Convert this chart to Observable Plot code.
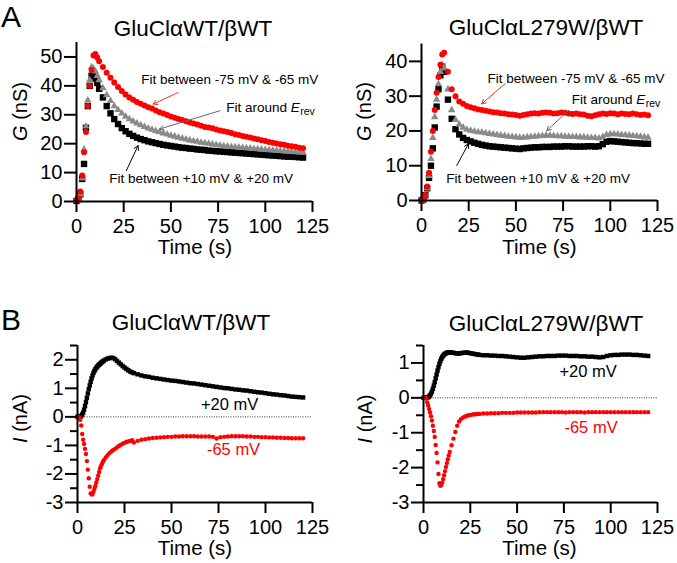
<!DOCTYPE html>
<html><head><meta charset="utf-8">
<script src="https://cdn.jsdelivr.net/npm/d3@7"></script>
<script src="https://cdn.jsdelivr.net/npm/@observablehq/plot@0.6"></script>
<style>
body{margin:0;background:#fff;}
#fig{position:relative;width:677px;height:563px;overflow:hidden;font-family:'Liberation Sans',Arial,sans-serif;}
#fig svg{position:absolute;}
</style></head><body><div id="fig"></div>
<script>
// ---------- DATA ----------
const xTicks = [0, 25, 50, 75, 100, 125];
const yTicksA_WT = [0, 10, 20, 30, 40, 50];
const yTicksA_L = [0, 10, 20, 30, 40];
const yTicksB_WT = [-3, -2, -1, 0, 1, 2];
const yMinorB_WT = [-2.5, -1.5, -0.5, 0.5, 1.5, 2.5];
const yTicksB_L = [-3, -2, -1, 0, 1];
const yMinorB_L = [-2.5, -1.5, -0.5, 0.5, 1.5];

const titles = ["GluCl\u03b1WT/\u03b2WT", "GluCl\u03b1L279W/\u03b2WT"];
const panelLetters = ["A", "B"];

// Time (s) for panel A conductance series
const tA = [0,1,2,3,4,5,6,7,8,9,10,11,12,14,16,18,20,22,24,26,28,30,32,34,36,38,40,42,44,46,48,50,52,54,56,58,60,62,64,66,68,70,72,74,76,78,80,82,84,86,88,90,92,94,96,98,100,102,104,106,108,110,112,114,116,118,120];

// A, GluCl alpha WT / beta WT : G (nS)
const gWT_red = [0.3,1,3.5,9,17,24,33,40,45.5,50.5,51,49.8,48.5,46.5,44.5,42.8,41.2,39.6,38.2,37,36,35.2,34.4,33.8,33.2,32.6,32.2,31.5,30.9,30.4,29.9,29.4,29,28.5,28.2,27.8,27.3,27,26.6,26.2,25.8,25.6,25.3,24.9,24.6,24.3,24,23.7,23.3,23,22.7,22.4,22.1,21.8,21.5,21.2,20.9,20.6,20.3,20.1,19.8,19.6,19.3,19.1,18.9,18.6,18.4];
const gWT_gray = [0.2,0.8,2.5,8,18,26,35,42,46.5,46,45,43.5,42,39.2,36.8,34.8,33,31.7,30.5,29.4,28.5,27.7,27,26.4,25.8,25.3,24.9,24.4,24,23.6,23.2,22.8,22.5,22.1,21.8,21.5,21.2,20.9,20.7,20.4,20.2,20,19.8,19.6,19.4,19.2,19.1,18.9,18.8,18.7,18.6,18.5,18.4,18.2,18.1,18,17.9,17.8,17.7,17.6,17.5,17.4,17.3,17.2,17.1,17,16.9];
const gWT_black = [0.2,0.8,2.5,7.8,13,25.5,33,40,43.5,43.5,42.5,41,39,36,33,30.5,28.5,26.8,25.4,24.3,23.4,22.7,22.1,21.6,21.2,20.8,20.5,20.2,19.9,19.6,19.4,19.2,19,18.8,18.6,18.5,18.3,18.2,18,17.9,17.8,17.6,17.5,17.4,17.3,17.2,17.1,17,16.9,16.8,16.7,16.6,16.5,16.4,16.3,16.2,16.1,16,15.9,15.8,15.7,15.6,15.5,15.5,15.4,15.3,15.2];

// A, GluCl alpha L279W / beta WT : G (nS)
const gL_red = [0,0.3,1.5,4,8,14,20,26,31,35.5,39,42,42.5,37,32,30,28.5,27.8,27.2,26.8,26.5,26.2,26,25.8,25.6,25.4,25.3,25.1,25,24.8,24.7,24.6,24.4,24.6,24.8,25,25.1,25,25.2,25.3,25.2,25,25.1,25.3,25.2,25,24.9,25,24.8,24.7,24.4,24.2,24.5,24.8,25,24.9,25.1,25,24.8,25,24.9,24.8,25,24.8,24.6,24.7,24.5];
const gL_gray = [0,0.3,1.5,3.5,7,12,18,24,29,33.5,37,39,38,32,26,23.2,21.8,21,20.4,20.1,19.9,19.7,19.6,19.4,19.2,19,18.9,18.7,18.6,18.4,18.3,18.2,18.1,18.1,18.2,18.3,18.4,18.5,18.6,18.7,18.7,18.6,18.5,18.5,18.4,18.4,18.3,18.3,18.2,18.2,18.1,18,18,17.9,18.3,18.9,19.1,19.1,19,18.9,18.8,18.7,18.6,18.5,18.4,18.2,18.1];
const gL_black = [0,0.3,1.5,3.5,6.5,10,15,21,27,32,36,38.5,37,29,23.5,20.5,19,18,17.4,17,16.6,16.3,16,15.8,15.6,15.5,15.4,15.3,15.2,15.1,15,14.9,14.8,15,15.1,15.2,15.3,15.3,15.4,15.4,15.4,15.5,15.5,15.5,15.6,15.6,15.5,15.5,15.5,15.5,15.6,15.6,15.5,15.6,16.2,16.9,17.1,17,16.9,16.8,16.7,16.6,16.5,16.5,16.4,16.3,16.3];

// Time (s) for panel B current series
const tB = [0,0.5,1,1.5,2,2.5,3,3.5,4,4.5,5,5.5,6,6.5,7,7.5,8,8.5,9,9.5,10,10.5,11,11.5,12,12.5,13,13.5,14,15,16,17,18,19,20,21,22,23,24,25,26,27,28,29,30,32,34,36,38,40,42,44,46,48,50,52,54,56,58,60,62,64,66,68,70,72,74,76,78,80,82,84,86,88,90,92,94,96,98,100,102,104,106,108,110,112,114,116,118,120];

// B, WT : I (nA) at +20 mV and -65 mV
const iWT_pos = [0,0,0,0.01,0.03,0.08,0.15,0.25,0.38,0.52,0.67,0.82,0.97,1.1,1.23,1.35,1.45,1.54,1.61,1.67,1.72,1.76,1.8,1.83,1.86,1.89,1.92,1.94,1.97,2.01,2.04,2.06,2.07,2.06,2.02,1.96,1.9,1.84,1.78,1.73,1.68,1.63,1.59,1.56,1.53,1.49,1.45,1.42,1.4,1.37,1.35,1.33,1.31,1.29,1.27,1.26,1.24,1.22,1.2,1.18,1.17,1.15,1.13,1.11,1.09,1.07,1.05,1.03,1.01,1.0,0.98,0.96,0.95,0.93,0.92,0.9,0.88,0.86,0.85,0.83,0.81,0.79,0.78,0.76,0.75,0.73,0.71,0.7,0.69,0.68];
const iWT_neg = [0,0,-0.02,-0.1,-0.3,-0.6,-0.8,-0.95,-1.12,-1.3,-1.55,-1.85,-2.15,-2.45,-2.68,-2.72,-2.7,-2.62,-2.52,-2.42,-2.3,-2.18,-2.06,-1.93,-1.8,-1.72,-1.65,-1.58,-1.52,-1.42,-1.34,-1.27,-1.21,-1.16,-1.12,-1.07,-1.02,-0.98,-0.94,-0.91,-0.88,-0.86,-0.84,-0.82,-0.9,-0.84,-0.8,-0.78,-0.76,-0.74,-0.73,-0.72,-0.71,-0.7,-0.7,-0.69,-0.69,-0.68,-0.68,-0.68,-0.68,-0.69,-0.69,-0.69,-0.69,-0.7,-0.76,-0.71,-0.7,-0.69,-0.68,-0.68,-0.68,-0.68,-0.69,-0.69,-0.7,-0.7,-0.71,-0.71,-0.72,-0.72,-0.73,-0.73,-0.74,-0.74,-0.75,-0.75,-0.75,-0.75];

// B, L279W : I (nA) at +20 mV and -65 mV
const iL_pos = [0,0,0,0,0.01,0.02,0.04,0.07,0.12,0.18,0.26,0.35,0.45,0.56,0.67,0.78,0.88,0.97,1.05,1.12,1.17,1.21,1.24,1.26,1.28,1.29,1.3,1.3,1.3,1.3,1.29,1.28,1.27,1.27,1.28,1.29,1.29,1.3,1.29,1.28,1.27,1.26,1.25,1.24,1.23,1.22,1.22,1.21,1.21,1.2,1.2,1.19,1.18,1.17,1.16,1.15,1.15,1.16,1.17,1.18,1.19,1.19,1.2,1.2,1.2,1.21,1.21,1.21,1.2,1.2,1.2,1.19,1.19,1.18,1.18,1.17,1.16,1.17,1.2,1.22,1.23,1.23,1.24,1.24,1.24,1.23,1.23,1.22,1.21,1.2];
const iL_neg = [0,0,0,-0.02,-0.13,-0.22,-0.32,-0.42,-0.53,-0.65,-0.8,-0.95,-1.12,-1.35,-1.58,-1.85,-2.18,-2.45,-2.52,-2.5,-2.43,-2.33,-2.22,-2.1,-1.98,-1.87,-1.76,-1.65,-1.55,-1.36,-1.17,-0.98,-0.8,-0.68,-0.61,-0.57,-0.54,-0.52,-0.5,-0.49,-0.48,-0.47,-0.47,-0.46,-0.46,-0.45,-0.45,-0.44,-0.44,-0.44,-0.43,-0.43,-0.43,-0.43,-0.42,-0.42,-0.42,-0.42,-0.42,-0.42,-0.41,-0.41,-0.41,-0.41,-0.41,-0.41,-0.41,-0.42,-0.41,-0.41,-0.41,-0.41,-0.42,-0.41,-0.41,-0.41,-0.41,-0.41,-0.41,-0.41,-0.41,-0.41,-0.41,-0.41,-0.41,-0.41,-0.41,-0.41,-0.41,-0.41];

// Annotations (data coordinates)
const annA_WT_text = [{x: 81.2, y: 42.3, text: "Fit between -75 mV & -65 mV"}, {x: 66, y: 7.9, text: "Fit between +10 mV & +20 mV"}];
const annA_WT_erev = [{x: 79.3, y: 32.5}];
const annA_WT_arrows = [
  {x1: 53.9, y1: 37.7, x2: 40.6, y2: 33.7, c: "#ee3030"},
  {x1: 76, y1: 31.4, x2: 44.1, y2: 25.1, c: "#666666"},
  {x1: 26.4, y1: 10.7, x2: 32.6, y2: 19.3, c: "#000000"}
];
const annA_L_text = [{x: 81.8, y: 35, text: "Fit between -75 mV & -65 mV"}, {x: 61.8, y: 6.3, text: "Fit between +10 mV & +20 mV"}];
const annA_L_erev = [{x: 79.6, y: 29}];
const annA_L_arrows = [
  {x1: 44.3, y1: 33.6, x2: 31.9, y2: 27.8, c: "#ee3030"},
  {x1: 77.9, y1: 25.9, x2: 66.4, y2: 20.1, c: "#666666"},
  {x1: 18.7, y1: 10.1, x2: 24.9, y2: 16.3, c: "#000000"}
];
const erevParts = ["Fit around", "E", "rev"];
const annB_WT = [{x: 80.9, y: 0.42, text: "+20 mV", c: "#000"}, {x: 83, y: -1.16, text: "-65 mV", c: "#ff0000"}];
const annB_L = [{x: 87.9, y: 0.76, text: "+20 mV", c: "#000"}, {x: 89.5, y: -0.85, text: "-65 mV", c: "#ff0000"}];

// ---------- DRAWING ----------
const FONT = "'Liberation Sans', Arial, Helvetica, sans-serif";
const RED = "#ff0000", GRAY = "#8a8a8a", BLACK = "#000000";
const TICK_FONT = 20;
const fig = document.getElementById("fig");
const rows = (t, v) => t.map((d, i) => ({t: d, v: v[i]}));

function erevMarks(p) {
  return [
    Plot.text(p, {x: "x", y: "y", text: () => erevParts[0], textAnchor: "start", fontSize: 13.5, fill: "#000"}),
    Plot.text(p, {x: "x", y: "y", text: () => erevParts[1], textAnchor: "start", dx: 64.5, fontSize: 13.5, fontStyle: "italic", fill: "#000"}),
    Plot.text(p, {x: "x", y: "y", text: () => erevParts[2], textAnchor: "start", dx: 74, dy: 4, fontSize: 10.5, fill: "#000"})
  ];
}

function panel(cfg) {
  const svg = Plot.plot({
    width: cfg.w, height: cfg.h,
    marginLeft: cfg.ml, marginRight: cfg.mr, marginTop: cfg.mt, marginBottom: cfg.mb,
    x: {domain: [0, 125]},
    y: {domain: cfg.yDomain},
    style: {fontFamily: FONT, color: "#000", background: "transparent", overflow: "visible"},
    marks: [
      ...cfg.marks,
      Plot.ruleX([0], {strokeWidth: 2}),
      Plot.ruleY([cfg.yDomain[0]], {strokeWidth: 2}),
      cfg.minor ? Plot.axisY({ticks: cfg.minor, tickSize: 7, strokeWidth: 2, tickFormat: () => "", label: null}) : null,
      Plot.axisY({ticks: cfg.yTicks, tickSize: 12, strokeWidth: 2, label: null, tickFormat: () => ""}),
      Plot.axisX({ticks: xTicks, tickSize: 11, strokeWidth: 2, label: null, tickFormat: () => ""}),
      // tick labels
      Plot.text(cfg.yTicks, {y: d => d, text: d => String(d), frameAnchor: "left", dx: -14, textAnchor: "end", lineAnchor: "middle", fontSize: TICK_FONT, fill: "#000"}),
      Plot.text(xTicks, {x: d => d, text: d => String(d), frameAnchor: "bottom", dy: 17, lineAnchor: "top", fontSize: TICK_FONT, fill: "#000"})
    ]
  });
  svg.style.left = cfg.left + "px";
  svg.style.top = cfg.top + "px";
  fig.appendChild(svg);
}

function seriesA(red, gray, black) {
  return [
    Plot.dot(rows(tA, black), {x: "t", y: "v", symbol: "square", r: 3.6, fill: BLACK}),
    Plot.dot(rows(tA, gray), {x: "t", y: "v", symbol: "triangle", r: 2.8, fill: GRAY}),
    Plot.dot(rows(tA, red), {x: "t", y: "v", r: 3.0, fill: RED})
  ];
}
function seriesB(pos, neg) {
  return [
    Plot.ruleY([0], {strokeWidth: 0.8, strokeDasharray: "1,1.4", stroke: "#000"}),
    Plot.dot(rows(tB, pos), {x: "t", y: "v", symbol: "square", r: 2.5, fill: BLACK}),
    Plot.dot(rows(tB, neg), {x: "t", y: "v", r: 2.2, fill: RED})
  ];
}
function arrows(a) {
  return Plot.arrow(a, {x1: "x1", y1: "y1", x2: "x2", y2: "y2", stroke: "c", strokeWidth: 1, headLength: 7});
}

panel({left: 0, top: 0, w: 338, h: 275, ml: 76, mr: 26, mt: 42, mb: 74, yDomain: [0, 55], yTicks: yTicksA_WT,
  marks: [...seriesA(gWT_red, gWT_gray, gWT_black), arrows(annA_WT_arrows),
    Plot.text(annA_WT_text, {x: "x", y: "y", text: "text", fontSize: 13.5, fill: "#000"}), ...erevMarks(annA_WT_erev)]});
panel({left: 338, top: 0, w: 339, h: 275, ml: 83, mr: 20, mt: 43.5, mb: 75, yDomain: [0, 45], yTicks: yTicksA_L,
  marks: [...seriesA(gL_red, gL_gray, gL_black), arrows(annA_L_arrows),
    Plot.text(annA_L_text, {x: "x", y: "y", text: "text", fontSize: 13.5, fill: "#000"}), ...erevMarks(annA_L_erev)]});
panel({left: 0, top: 280, w: 338, h: 283, ml: 77, mr: 26, mt: 65, mb: 61, yDomain: [-3, 2.5], yTicks: yTicksB_WT, minor: yMinorB_WT,
  marks: [...seriesB(iWT_pos, iWT_neg), Plot.text(annB_WT, {x: "x", y: "y", text: "text", fill: "c", fontSize: 16.5})]});
panel({left: 338, top: 280, w: 339, h: 283, ml: 85, mr: 20, mt: 65, mb: 61, yDomain: [-3, 1.5], yTicks: yTicksB_L, minor: yMinorB_L,
  marks: [...seriesB(iL_pos, iL_neg), Plot.text(annB_L, {x: "x", y: "y", text: "text", fill: "c", fontSize: 16.5})]});

// ---------- TEXT OVERLAY (titles, panel letters, axis labels) ----------
const ov = d3.select(fig).append("svg").attr("width", 677).attr("height", 563)
  .style("left", "0px").style("top", "0px").style("pointer-events", "none")
  .attr("font-family", FONT);
ov.append("text").attr("x", 1).attr("y", 27).attr("font-size", 30).text(panelLetters[0]);
ov.append("text").attr("x", 1).attr("y", 330).attr("font-size", 30).text(panelLetters[1]);
[[193, 36, 0], [546, 35, 1], [191, 330, 0], [546, 331, 1]].forEach(([x, y, k]) =>
  ov.append("text").attr("x", x).attr("y", y).attr("text-anchor", "middle").attr("font-size", 22.5).text(titles[k]));
[[195, 254], [539.5, 254], [195, 555], [539.5, 555]].forEach(([x, y]) =>
  ov.append("text").attr("x", x).attr("y", y).attr("text-anchor", "middle").attr("font-size", 20.5).text("Time (s)"));
[[27, 111.5, "G", " (nS)"], [371, 111.5, "G", " (nS)"], [27, 418.5, "I", " (nA)"], [372, 419, "I", " (nA)"]].forEach(([x, y, v, u]) => {
  const t = ov.append("text").attr("transform", `translate(${x},${y}) rotate(-90)`).attr("text-anchor", "middle").attr("font-size", 20);
  t.append("tspan").attr("font-style", "italic").text(v);
  t.append("tspan").text(u);
});
</script></body></html>
